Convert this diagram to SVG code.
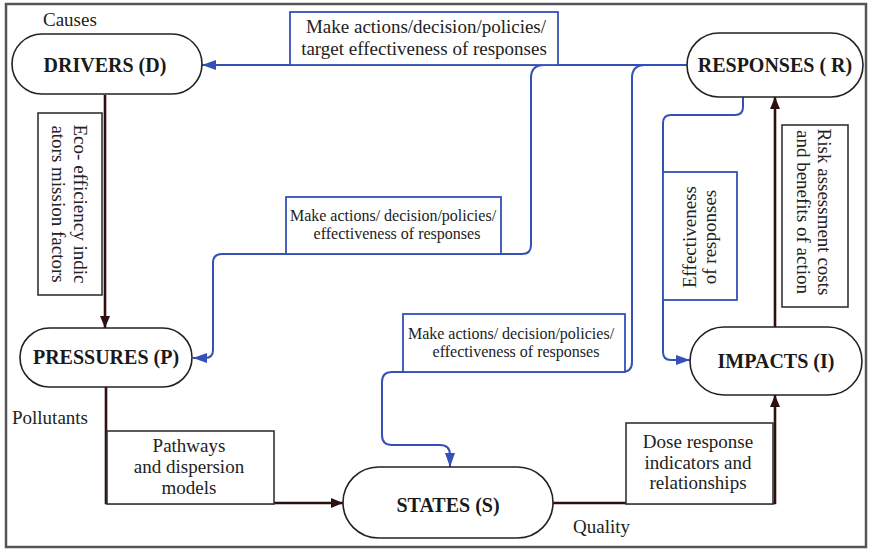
<svg xmlns="http://www.w3.org/2000/svg" width="870" height="550" viewBox="0 0 870 550" font-family="'Liberation Serif', 'DejaVu Serif', serif">
  <defs>
    <style>
      text { font-family: 'Liberation Serif', 'DejaVu Serif', serif; }
      .frame { fill: #ffffff; stroke: #555555; stroke-width: 2.5; }
      .node rect { fill: #ffffff; stroke: #222222; stroke-width: 1.6; }
      .node text { font-size: 20px; font-weight: bold; fill: #1a1a1a; text-anchor: middle; }
      .lbl { font-size: 19px; fill: #222222; }
      .lbl-s { font-size: 16px; fill: #222222; }
      .mid { text-anchor: middle; }
      .box-dark { fill: #ffffff; stroke: #333333; stroke-width: 1.6; }
      .box-blue { fill: #ffffff; stroke: #3550b8; stroke-width: 1.8; }
      .flow-dark { fill: none; stroke: #2e0f0f; stroke-width: 2.6; }
      .flow-blue { fill: none; stroke: #3550b8; stroke-width: 2; }
    </style>
    <marker id="arrDark" viewBox="0 0 12 10" refX="12" refY="5" markerWidth="12" markerHeight="10" markerUnits="userSpaceOnUse" orient="auto">
      <path d="M0,0 L12,5 L0,10 Z" fill="#2e0f0f"/>
    </marker>
    <marker id="arrBlue" viewBox="0 0 14 10" refX="14" refY="5" markerWidth="14" markerHeight="10" markerUnits="userSpaceOnUse" orient="auto">
      <path d="M0,0 L14,5 L0,10 Z" fill="#3550b8"/>
    </marker>
  </defs>

  <!-- outer frame -->
  <rect class="frame" x="6" y="4" width="860" height="543"/>

  <!-- connectors -->
  <g id="connectors">
    <!-- causal chain D -> P -> S -> I -> R -->
    <path class="flow-dark" d="M105,95 V328" marker-end="url(#arrDark)"/>
    <path class="flow-dark" d="M106,387 V503 H343" marker-end="url(#arrDark)"/>
    <path class="flow-dark" d="M553,503 H775 V395" marker-end="url(#arrDark)"/>
    <path class="flow-dark" d="M775,327 V97" marker-end="url(#arrDark)"/>

    <!-- feedback from responses -->
    <path class="flow-blue" d="M687,65 H202" marker-end="url(#arrBlue)"/>
    <path class="flow-blue" d="M544,65 Q531,65 531,78 V245 Q531,254 522,254 H222 Q213,254 213,263 V350 Q213,358 205,358 H193" marker-end="url(#arrBlue)"/>
    <path class="flow-blue" d="M645,65 Q632,65 632,78 V362 Q632,372 622,372 H392 Q382,372 382,382 V435 Q382,445 392,445 H440 Q450,445 450,455 V467" marker-end="url(#arrBlue)"/>
    <path class="flow-blue" d="M743,97 V107 Q743,115 735,115 H671 Q663,115 663,123 V352 Q663,360 671,360 H690" marker-end="url(#arrBlue)"/>
  </g>

  <!-- connector labels -->
  <g id="label-eco">
    <rect class="box-dark" x="38" y="113" width="64" height="182"/>
    <g transform="translate(74,204) rotate(90)">
      <text class="lbl mid" x="0" y="0" font-size="20">Eco- efficiency indic</text>
      <text class="lbl mid" x="0" y="22" font-size="20">ators mission factors</text>
    </g>
  </g>
  <g id="label-pathways">
    <rect class="box-dark" x="107" y="431" width="167" height="73"/>
    <text class="lbl mid" x="189" y="452">Pathways</text>
    <text class="lbl mid" x="189" y="473">and dispersion</text>
    <text class="lbl mid" x="189" y="494">models</text>
  </g>
  <g id="label-dose">
    <rect class="box-dark" x="626" y="423" width="147" height="81"/>
    <text class="lbl mid" x="698" y="448">Dose response</text>
    <text class="lbl mid" x="698" y="469">indicators and</text>
    <text class="lbl mid" x="698" y="489">relationships</text>
  </g>
  <g id="label-risk">
    <rect class="box-dark" x="782" y="125" width="66" height="182"/>
    <g transform="translate(818,212) rotate(90)">
      <text class="lbl mid" x="0" y="0">Risk assessment costs</text>
      <text class="lbl mid" x="0" y="21">and benefits of action</text>
    </g>
  </g>
  <g id="label-target">
    <rect class="box-blue" x="290" y="12" width="268" height="53"/>
    <text class="lbl mid" x="426" y="33">Make actions/decision/policies/</text>
    <text class="lbl mid" x="424" y="55">target effectiveness of responses</text>
  </g>
  <g id="label-pressures-fb">
    <rect class="box-blue" x="286" y="197" width="215" height="57"/>
    <text class="lbl-s mid" x="393" y="221">Make actions/ decision/policies/</text>
    <text class="lbl-s mid" x="397" y="239">effectiveness of responses</text>
  </g>
  <g id="label-states-fb">
    <rect class="box-blue" x="403" y="314" width="222" height="58"/>
    <text class="lbl-s mid" x="511" y="339">Make actions/ decision/policies/</text>
    <text class="lbl-s mid" x="516" y="357">effectiveness of responses</text>
  </g>
  <g id="label-impacts-fb">
    <rect class="box-blue" x="663" y="172" width="74" height="128"/>
    <g transform="translate(696,237) rotate(-90)">
      <text class="lbl mid" x="0" y="0">Effectiveness</text>
      <text class="lbl mid" x="0" y="20">of responses</text>
    </g>
  </g>

  <!-- free labels -->
  <text class="lbl" x="43" y="26">Causes</text>
  <text class="lbl" x="12" y="424">Pollutants</text>
  <text class="lbl" x="573" y="533">Quality</text>

  <!-- nodes -->
  <g id="drivers" class="node">
    <rect x="12" y="34" width="190" height="60" rx="30"/>
    <text x="105" y="72">DRIVERS (D)</text>
  </g>
  <g id="responses" class="node">
    <rect x="687" y="33" width="176" height="64" rx="32"/>
    <text x="775" y="72">RESPONSES ( R)</text>
  </g>
  <g id="pressures" class="node">
    <rect x="20" y="328" width="172" height="59" rx="29.5"/>
    <text x="106" y="364">PRESSURES (P)</text>
  </g>
  <g id="impacts" class="node">
    <rect x="690" y="327" width="172" height="68" rx="34"/>
    <text x="776" y="368">IMPACTS (I)</text>
  </g>
  <g id="states" class="node">
    <rect x="343" y="467" width="210" height="71" rx="35.5"/>
    <text x="448" y="512">STATES (S)</text>
  </g>
</svg>
